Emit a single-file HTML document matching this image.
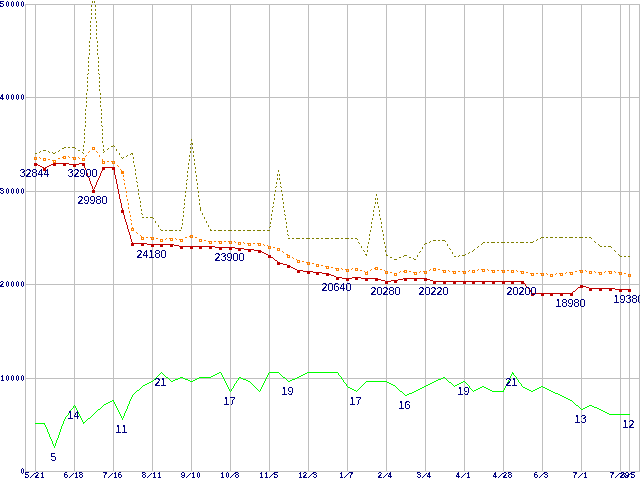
<!DOCTYPE html>
<html lang="en">
<head>
<meta charset="utf-8">
<title>Price history chart</title>
<style>
html,body{margin:0;padding:0;background:#fff;}
body{width:640px;height:480px;overflow:hidden;}
svg{display:block;}
.tiny{font-family:"Liberation Sans", Arial, sans-serif;font-size:8.8px;font-weight:normal;fill:#00007f;}
.tiny text{text-anchor:middle;}
.tiny .s{font-family:"Liberation Sans", Arial, sans-serif;font-size:9.5px;stroke-width:0.2;}
.val{font-family:"Liberation Sans",Arial,sans-serif;font-size:10.67px;fill:#00007f;}
</style>
</head>
<body>
<svg width="640" height="480" viewBox="0 0 640 480" role="img">
<title>Price history chart</title>
<desc>Y axis: 0 10000 20000 30000 40000 50000. X axis: 5/21 6/18 7/16 8/11 9/10 10/8 11/5 12/3 1/7 2/4 3/4 4/1 4/28 6/3 7/1 7/29 8/5. Lowest price: 32844 32900 29980 24180 23900 20640 20280 20220 20200 18980 19380. Count: 5 14 11 21 17 19 17 16 19 21 13 12.</desc>
<defs>
<filter id="t40" x="0" y="0" width="640" height="480" filterUnits="userSpaceOnUse" color-interpolation-filters="sRGB"><feComponentTransfer><feFuncA type="discrete" tableValues="0 0 0 0 0 0 0 0 0 0 0 0 0 0 0 0 0 0 0 0 0 0 1 1 1 1 1 1 1 1 1 1 1 1 1 1 1 1 1 1 1 1 1 1 1 1 1 1 1 1"/></feComponentTransfer></filter>
<filter id="t50" x="0" y="0" width="640" height="480" filterUnits="userSpaceOnUse" color-interpolation-filters="sRGB"><feComponentTransfer><feFuncA type="discrete" tableValues="0 1"/></feComponentTransfer></filter>
</defs>
<rect width="640" height="480" fill="#fff"/>
<path id="grid" fill="#bfbfbf" shape-rendering="crispEdges" d="M25 4h615v1h-615zM25 97h615v1h-615zM25 191h615v1h-615zM25 284h615v1h-615zM25 378h615v1h-615zM25 471h615v1h-615zM25 4h1v468h-1zM35 4h1v468h-1zM74 4h1v468h-1zM113 4h1v468h-1zM152 4h1v468h-1zM191 4h1v468h-1zM230 4h1v468h-1zM269 4h1v468h-1zM308 4h1v468h-1zM347 4h1v468h-1zM386 4h1v468h-1zM425 4h1v468h-1zM464 4h1v468h-1zM503 4h1v468h-1zM542 4h1v468h-1zM581 4h1v468h-1zM620 4h1v468h-1zM629 4h1v468h-1zM639 4h1v468h-1z"/>
<g class="tiny" id="ylabels" filter="url(#t50)" stroke="#00007f" stroke-width="0.25">
<text x="2.222 8.333 13.889 19.444 25" y="7.0" transform="scale(0.9,1)">5<tspan textLength="14" lengthAdjust="spacingAndGlyphs">0000</tspan></text>
<text x="2.222 8.333 13.889 19.444 25" y="100.0" transform="scale(0.9,1)">4<tspan textLength="14" lengthAdjust="spacingAndGlyphs">0000</tspan></text>
<text x="2.222 8.333 13.889 19.444 25" y="194.0" transform="scale(0.9,1)">3<tspan textLength="14" lengthAdjust="spacingAndGlyphs">0000</tspan></text>
<text x="2.222 8.333 13.889 19.444 25" y="287.0" transform="scale(0.9,1)">2<tspan textLength="14" lengthAdjust="spacingAndGlyphs">0000</tspan></text>
<text x="2.778 8.333 13.889 19.444 25" y="381.0" transform="scale(0.9,1)">1<tspan textLength="14" lengthAdjust="spacingAndGlyphs">0000</tspan></text>
<text x="25" y="474.0" transform="scale(0.9,1)"><tspan textLength="3.5" lengthAdjust="spacingAndGlyphs">0</tspan></text>
</g>
<g class="tiny" id="xlabels" filter="url(#t50)" stroke="#00007f" stroke-width="0.25">
<text x="30 36.111 41.111 47.222" y="478.0" dx="0 -1.7 0 0" rotate="0 30 0 0" transform="scale(0.9,1)">5<tspan class="s">/</tspan>21</text>
<text x="73.333 79.444 85 90" y="478.0" dx="0 -1.7 0 0" rotate="0 30 0 0" transform="scale(0.9,1)">6<tspan class="s">/</tspan>18</text>
<text x="116.667 122.778 128.333 133.333" y="478.0" dx="0 -1.7 0 0" rotate="0 30 0 0" transform="scale(0.9,1)">7<tspan class="s">/</tspan>16</text>
<text x="160 166.111 171.667 177.222" y="478.0" dx="0 -1.7 0 0" rotate="0 30 0 0" transform="scale(0.9,1)">8<tspan class="s">/</tspan>11</text>
<text x="203.333 209.444 215 220.556" y="478.0" dx="0 -1.7 0 0" rotate="0 30 0 0" transform="scale(0.9,1)">9<tspan class="s">/</tspan>1<tspan textLength="3.5" lengthAdjust="spacingAndGlyphs">0</tspan></text>
<text x="247.222 252.778 258.333 263.333" y="478.0" dx="0 0 -1.7 0" rotate="0 0 30 0" transform="scale(0.9,1)">1<tspan textLength="3.5" lengthAdjust="spacingAndGlyphs">0</tspan><tspan class="s">/</tspan>8</text>
<text x="290.556 296.111 301.667 306.667" y="478.0" dx="0 0 -1.7 0" rotate="0 0 30 0" transform="scale(0.9,1)">11<tspan class="s">/</tspan>5</text>
<text x="333.889 338.889 345 350" y="478.0" dx="0 0 -1.7 0" rotate="0 0 30 0" transform="scale(0.9,1)">12<tspan class="s">/</tspan>3</text>
<text x="379.444 385 390" y="478.0" dx="0 -1.7 0" rotate="0 30 0" transform="scale(0.9,1)">1<tspan class="s">/</tspan>7</text>
<text x="422.222 428.333 433.333" y="478.0" dx="0 -1.7 0" rotate="0 30 0" transform="scale(0.9,1)">2<tspan class="s">/</tspan>4</text>
<text x="465.556 471.667 476.667" y="478.0" dx="0 -1.7 0" rotate="0 30 0" transform="scale(0.9,1)">3<tspan class="s">/</tspan>4</text>
<text x="508.889 515 520.556" y="478.0" dx="0 -1.7 0" rotate="0 30 0" transform="scale(0.9,1)">4<tspan class="s">/</tspan>1</text>
<text x="550 556.111 561.111 566.667" y="478.0" dx="0 -1.7 0 0" rotate="0 30 0 0" transform="scale(0.9,1)">4<tspan class="s">/</tspan>28</text>
<text x="595.556 601.667 606.667" y="478.0" dx="0 -1.7 0" rotate="0 30 0" transform="scale(0.9,1)">6<tspan class="s">/</tspan>3</text>
<text x="638.889 645 650.556" y="478.0" dx="0 -1.7 0" rotate="0 30 0" transform="scale(0.9,1)">7<tspan class="s">/</tspan>1</text>
<text x="680 686.111 691.111 696.667" y="478.0" dx="0 -1.7 0 0" rotate="0 30 0 0" transform="scale(0.9,1)">7<tspan class="s">/</tspan>29</text>
<text x="692.222 698.333 703.333" y="478.0" dx="0 -1.7 0" rotate="0 30 0" transform="scale(0.9,1)">8<tspan class="s">/</tspan>5</text>
</g>
<path id="count" fill="#00ff00" shape-rendering="crispEdges" d="M161 372h1v1h-1zM219 372h2v1h-2zM269 372h10v1h-10zM307 372h31v1h-31zM512 372h1v1h-1zM160 373h1v1h-1zM162 373h1v1h-1zM217 373h2v1h-2zM221 373h1v2h-1zM268 373h1v2h-1zM279 373h1v1h-1zM305 373h2v1h-2zM338 373h1v2h-1zM512 373h2v1h-2zM159 374h1v1h-1zM163 374h1v1h-1zM215 374h2v1h-2zM280 374h1v1h-1zM303 374h2v1h-2zM511 374h1v2h-1zM513 374h1v1h-1zM158 375h1v1h-1zM164 375h1v1h-1zM213 375h2v1h-2zM222 375h1v2h-1zM267 375h1v2h-1zM281 375h1v1h-1zM301 375h2v1h-2zM339 375h1v1h-1zM514 375h1v1h-1zM157 376h1v1h-1zM165 376h1v1h-1zM211 376h2v1h-2zM282 376h1v1h-1zM299 376h2v1h-2zM340 376h1v1h-1zM510 376h1v2h-1zM515 376h1v1h-1zM156 377h1v1h-1zM166 377h2v1h-2zM180 377h3v1h-3zM199 377h12v1h-12zM223 377h1v2h-1zM239 377h2v1h-2zM266 377h1v2h-1zM283 377h2v1h-2zM297 377h2v1h-2zM341 377h1v2h-1zM443 377h2v1h-2zM516 377h1v2h-1zM155 378h1v1h-1zM168 378h1v1h-1zM178 378h2v1h-2zM183 378h2v1h-2zM197 378h2v1h-2zM238 378h1v2h-1zM241 378h2v1h-2zM285 378h1v1h-1zM295 378h2v1h-2zM441 378h2v1h-2zM445 378h1v1h-1zM509 378h1v2h-1zM154 379h1v1h-1zM169 379h1v1h-1zM175 379h3v1h-3zM185 379h3v1h-3zM195 379h2v1h-2zM224 379h1v2h-1zM243 379h3v1h-3zM265 379h1v2h-1zM286 379h1v1h-1zM292 379h3v1h-3zM342 379h1v1h-1zM438 379h3v1h-3zM446 379h1v1h-1zM517 379h1v1h-1zM153 380h1v1h-1zM170 380h1v1h-1zM173 380h2v1h-2zM188 380h2v1h-2zM193 380h2v1h-2zM237 380h1v1h-1zM246 380h2v1h-2zM287 380h1v1h-1zM290 380h2v1h-2zM343 380h1v2h-1zM436 380h2v1h-2zM447 380h1v1h-1zM508 380h1v2h-1zM518 380h1v2h-1zM151 381h2v1h-2zM171 381h2v1h-2zM190 381h3v1h-3zM225 381h1v2h-1zM236 381h1v2h-1zM248 381h2v1h-2zM264 381h1v2h-1zM288 381h2v1h-2zM366 381h21v1h-21zM434 381h2v1h-2zM448 381h1v1h-1zM463 381h2v1h-2zM149 382h2v1h-2zM250 382h1v1h-1zM344 382h1v1h-1zM365 382h1v1h-1zM387 382h2v1h-2zM432 382h2v1h-2zM449 382h2v1h-2zM461 382h2v1h-2zM465 382h1v1h-1zM507 382h1v2h-1zM519 382h1v1h-1zM147 383h2v1h-2zM226 383h1v2h-1zM235 383h1v1h-1zM251 383h1v1h-1zM263 383h1v2h-1zM345 383h1v1h-1zM364 383h1v1h-1zM389 383h2v1h-2zM430 383h2v1h-2zM451 383h1v1h-1zM459 383h2v1h-2zM466 383h1v1h-1zM520 383h1v1h-1zM145 384h2v1h-2zM234 384h1v2h-1zM252 384h1v1h-1zM346 384h1v2h-1zM363 384h1v1h-1zM391 384h2v1h-2zM428 384h2v1h-2zM452 384h1v1h-1zM457 384h2v1h-2zM467 384h1v1h-1zM506 384h1v2h-1zM521 384h1v2h-1zM143 385h2v1h-2zM227 385h1v2h-1zM253 385h1v1h-1zM262 385h1v2h-1zM362 385h1v1h-1zM393 385h2v1h-2zM426 385h2v1h-2zM453 385h1v1h-1zM455 385h2v1h-2zM468 385h1v1h-1zM142 386h1v1h-1zM233 386h1v2h-1zM254 386h1v1h-1zM347 386h1v1h-1zM361 386h1v1h-1zM395 386h1v1h-1zM424 386h2v1h-2zM454 386h1v1h-1zM469 386h1v2h-1zM482 386h2v1h-2zM505 386h1v2h-1zM522 386h1v1h-1zM541 386h2v1h-2zM141 387h1v1h-1zM228 387h1v2h-1zM255 387h1v1h-1zM261 387h1v2h-1zM348 387h2v1h-2zM360 387h1v1h-1zM396 387h1v1h-1zM422 387h2v1h-2zM480 387h2v1h-2zM484 387h2v1h-2zM523 387h2v1h-2zM539 387h2v1h-2zM543 387h2v1h-2zM140 388h1v1h-1zM232 388h1v1h-1zM256 388h1v1h-1zM350 388h2v1h-2zM359 388h1v1h-1zM397 388h1v1h-1zM420 388h2v1h-2zM470 388h1v1h-1zM478 388h2v1h-2zM486 388h2v1h-2zM504 388h1v2h-1zM525 388h2v1h-2zM537 388h2v1h-2zM545 388h2v1h-2zM139 389h1v1h-1zM229 389h1v2h-1zM231 389h1v2h-1zM257 389h1v1h-1zM260 389h1v2h-1zM352 389h2v1h-2zM358 389h1v1h-1zM398 389h1v1h-1zM418 389h2v1h-2zM471 389h1v1h-1zM476 389h2v1h-2zM488 389h2v1h-2zM527 389h2v1h-2zM535 389h2v1h-2zM547 389h2v1h-2zM137 390h2v1h-2zM258 390h1v1h-1zM354 390h2v1h-2zM357 390h1v1h-1zM399 390h1v1h-1zM416 390h2v1h-2zM472 390h1v1h-1zM474 390h2v1h-2zM490 390h2v1h-2zM503 390h1v1h-1zM529 390h2v1h-2zM533 390h2v1h-2zM549 390h2v1h-2zM136 391h1v1h-1zM230 391h1v1h-1zM259 391h1v1h-1zM356 391h1v1h-1zM400 391h2v1h-2zM414 391h2v1h-2zM473 391h1v1h-1zM492 391h12v1h-12zM531 391h2v1h-2zM551 391h2v1h-2zM135 392h1v1h-1zM402 392h1v1h-1zM412 392h2v1h-2zM553 392h2v1h-2zM134 393h1v1h-1zM403 393h1v1h-1zM409 393h3v1h-3zM555 393h3v1h-3zM133 394h1v1h-1zM404 394h1v1h-1zM407 394h2v1h-2zM558 394h2v1h-2zM132 395h1v2h-1zM405 395h2v1h-2zM560 395h2v1h-2zM562 396h2v1h-2zM131 397h1v2h-1zM564 397h2v1h-2zM566 398h2v1h-2zM130 399h1v2h-1zM568 399h2v1h-2zM112 400h2v1h-2zM570 400h2v1h-2zM110 401h2v1h-2zM113 401h1v1h-1zM129 401h1v3h-1zM572 401h1v1h-1zM108 402h2v1h-2zM114 402h1v2h-1zM573 402h1v1h-1zM106 403h2v1h-2zM574 403h1v1h-1zM104 404h2v1h-2zM115 404h1v2h-1zM128 404h1v2h-1zM575 404h1v1h-1zM74 405h1v1h-1zM103 405h1v1h-1zM576 405h2v1h-2zM589 405h3v1h-3zM73 406h1v2h-1zM75 406h1v2h-1zM102 406h1v1h-1zM116 406h1v2h-1zM127 406h1v3h-1zM578 406h1v1h-1zM587 406h2v1h-2zM592 406h2v1h-2zM101 407h1v1h-1zM579 407h1v1h-1zM585 407h2v1h-2zM594 407h3v1h-3zM72 408h1v1h-1zM76 408h1v2h-1zM100 408h1v1h-1zM117 408h1v2h-1zM580 408h1v1h-1zM583 408h2v1h-2zM597 408h2v1h-2zM71 409h1v1h-1zM98 409h2v1h-2zM126 409h1v2h-1zM581 409h2v1h-2zM599 409h2v1h-2zM70 410h1v2h-1zM77 410h1v2h-1zM97 410h1v1h-1zM118 410h1v2h-1zM601 410h2v1h-2zM96 411h1v1h-1zM125 411h1v2h-1zM603 411h2v1h-2zM69 412h1v1h-1zM78 412h1v2h-1zM95 412h1v1h-1zM119 412h1v2h-1zM605 412h2v1h-2zM68 413h1v2h-1zM94 413h1v1h-1zM124 413h1v3h-1zM607 413h2v1h-2zM79 414h1v2h-1zM93 414h1v1h-1zM120 414h1v2h-1zM609 414h21v1h-21zM67 415h1v1h-1zM92 415h1v1h-1zM66 416h1v1h-1zM80 416h1v2h-1zM91 416h1v1h-1zM121 416h1v2h-1zM123 416h1v2h-1zM65 417h1v2h-1zM90 417h1v1h-1zM81 418h1v2h-1zM88 418h2v1h-2zM122 418h1v2h-1zM64 419h1v2h-1zM87 419h1v1h-1zM82 420h1v2h-1zM86 420h1v1h-1zM63 421h1v3h-1zM85 421h1v1h-1zM83 422h2v1h-2zM35 423h10v1h-10zM83 423h1v1h-1zM44 424h1v1h-1zM62 424h1v2h-1zM45 425h1v2h-1zM61 426h1v3h-1zM46 427h1v2h-1zM47 429h1v3h-1zM60 429h1v3h-1zM48 432h1v2h-1zM59 432h1v3h-1zM49 434h1v3h-1zM58 435h1v3h-1zM50 437h1v2h-1zM57 438h1v2h-1zM51 439h1v2h-1zM56 440h1v3h-1zM52 441h1v3h-1zM55 443h1v3h-1zM53 444h1v2h-1zM54 446h1v2h-1z"/>
<path id="max" fill="#7f7f00" shape-rendering="crispEdges" d="M92 1h1v2h-1zM94 1h1v2h-1zM91 5h1v2h-1zM95 5h1v2h-1zM91 9h1v2h-1zM95 9h1v2h-1zM91 13h1v2h-1zM95 13h1v2h-1zM91 17h1v2h-1zM95 17h1v2h-1zM90 21h1v2h-1zM96 21h1v2h-1zM90 25h1v2h-1zM96 25h1v2h-1zM90 29h1v2h-1zM96 29h1v2h-1zM90 33h1v2h-1zM96 33h1v2h-1zM90 37h1v2h-1zM96 37h1v2h-1zM89 41h1v2h-1zM97 41h1v2h-1zM89 45h1v2h-1zM97 45h1v2h-1zM89 49h1v2h-1zM97 49h1v2h-1zM89 53h1v2h-1zM97 53h1v2h-1zM88 57h1v2h-1zM98 57h1v2h-1zM88 61h1v2h-1zM98 61h1v2h-1zM88 65h1v2h-1zM98 65h1v2h-1zM88 69h1v2h-1zM98 69h1v2h-1zM88 73h1v1h-1zM98 73h1v1h-1zM87 74h1v1h-1zM99 74h1v1h-1zM87 77h1v2h-1zM99 77h1v2h-1zM87 81h1v2h-1zM99 81h1v2h-1zM87 85h1v2h-1zM99 85h1v2h-1zM87 89h1v2h-1zM99 89h1v2h-1zM86 93h1v2h-1zM100 93h1v2h-1zM86 97h1v2h-1zM100 97h1v2h-1zM86 101h1v2h-1zM100 101h1v2h-1zM86 105h1v2h-1zM100 105h1v2h-1zM85 109h1v2h-1zM101 109h1v2h-1zM85 113h1v2h-1zM101 113h1v2h-1zM85 117h1v2h-1zM101 117h1v2h-1zM85 121h1v2h-1zM101 121h1v2h-1zM85 125h1v2h-1zM101 125h1v1h-1zM102 126h1v1h-1zM84 129h1v2h-1zM102 129h1v2h-1zM84 133h1v2h-1zM102 133h1v2h-1zM84 137h1v2h-1zM102 137h1v2h-1zM191 139h1v2h-1zM84 141h1v2h-1zM102 141h1v2h-1zM191 143h2v1h-2zM190 144h1v1h-1zM192 144h1v1h-1zM83 145h1v2h-1zM103 145h1v2h-1zM113 145h1v1h-1zM111 146h2v1h-2zM114 146h1v1h-1zM64 147h2v1h-2zM68 147h2v1h-2zM72 147h3v1h-3zM190 147h1v2h-1zM192 147h1v2h-1zM62 148h2v1h-2zM75 148h1v1h-1zM108 148h1v1h-1zM83 149h1v2h-1zM103 149h1v2h-1zM107 149h1v1h-1zM116 149h1v2h-1zM43 150h3v1h-3zM59 150h1v1h-1zM78 150h2v1h-2zM40 151h1v1h-1zM48 151h1v1h-1zM58 151h1v1h-1zM104 151h1v1h-1zM190 151h1v2h-1zM193 151h1v2h-1zM39 152h1v1h-1zM49 152h1v1h-1zM52 152h1v1h-1zM55 152h1v1h-1zM82 152h1v1h-1zM103 152h1v1h-1zM35 153h2v1h-2zM53 153h2v1h-2zM83 153h1v1h-1zM119 153h1v2h-1zM131 153h2v1h-2zM130 154h1v1h-1zM132 154h1v1h-1zM127 155h1v1h-1zM189 155h1v2h-1zM193 155h1v2h-1zM126 156h1v1h-1zM121 157h1v1h-1zM123 157h1v1h-1zM133 157h1v2h-1zM122 158h1v1h-1zM189 159h1v2h-1zM194 159h1v2h-1zM133 161h1v2h-1zM188 163h1v2h-1zM194 163h1v2h-1zM134 165h1v2h-1zM188 167h1v2h-1zM195 167h1v2h-1zM135 169h1v2h-1zM278 170h1v2h-1zM187 171h1v2h-1zM195 171h1v2h-1zM135 173h1v2h-1zM277 174h1v2h-1zM279 174h1v2h-1zM187 175h1v2h-1zM196 175h1v2h-1zM136 177h1v2h-1zM277 178h1v2h-1zM279 178h1v2h-1zM187 179h1v1h-1zM196 179h1v2h-1zM186 180h1v1h-1zM136 181h1v1h-1zM137 182h1v1h-1zM276 182h1v2h-1zM280 182h1v2h-1zM186 183h1v2h-1zM197 183h1v2h-1zM137 185h1v2h-1zM276 186h1v1h-1zM280 186h1v1h-1zM186 187h1v2h-1zM197 187h1v2h-1zM275 187h1v1h-1zM281 187h1v1h-1zM138 189h1v2h-1zM275 190h1v2h-1zM281 190h1v2h-1zM185 191h1v2h-1zM198 191h1v2h-1zM138 193h1v2h-1zM274 194h1v2h-1zM282 194h1v2h-1zM376 194h1v2h-1zM185 195h1v2h-1zM198 195h1v2h-1zM139 197h1v2h-1zM274 198h1v2h-1zM282 198h1v2h-1zM375 198h1v2h-1zM377 198h1v2h-1zM184 199h1v2h-1zM199 199h1v2h-1zM140 201h1v2h-1zM273 202h1v2h-1zM283 202h1v2h-1zM375 202h1v2h-1zM377 202h1v2h-1zM184 203h1v2h-1zM199 203h1v2h-1zM140 205h1v2h-1zM273 206h1v1h-1zM283 206h1v2h-1zM374 206h1v2h-1zM378 206h1v2h-1zM184 207h1v1h-1zM200 207h1v4h-1zM272 207h1v1h-1zM183 208h1v1h-1zM141 209h1v2h-1zM272 210h1v2h-1zM284 210h1v2h-1zM373 210h1v2h-1zM379 210h1v2h-1zM183 211h1v2h-1zM141 213h1v1h-1zM202 213h1v2h-1zM142 214h1v1h-1zM271 214h1v2h-1zM284 214h1v1h-1zM373 214h1v2h-1zM379 214h1v2h-1zM183 215h1v2h-1zM285 215h1v1h-1zM142 217h2v1h-2zM146 217h2v1h-2zM150 217h3v1h-3zM204 217h1v2h-1zM153 218h1v1h-1zM271 218h1v2h-1zM285 218h1v2h-1zM372 218h1v2h-1zM380 218h1v2h-1zM182 219h1v2h-1zM155 221h1v2h-1zM206 221h1v2h-1zM270 222h1v2h-1zM286 222h1v2h-1zM371 222h1v2h-1zM381 222h1v2h-1zM182 223h1v2h-1zM158 225h1v2h-1zM208 225h1v2h-1zM270 226h1v1h-1zM286 226h1v2h-1zM371 226h1v2h-1zM381 226h1v2h-1zM181 227h1v2h-1zM269 227h1v1h-1zM160 229h1v1h-1zM210 229h1v1h-1zM161 230h2v1h-2zM165 230h2v1h-2zM169 230h4v1h-4zM175 230h2v1h-2zM179 230h2v1h-2zM210 230h2v1h-2zM214 230h2v1h-2zM218 230h4v1h-4zM224 230h2v1h-2zM228 230h4v1h-4zM234 230h2v1h-2zM238 230h3v1h-3zM243 230h2v1h-2zM247 230h4v1h-4zM253 230h2v1h-2zM257 230h4v1h-4zM263 230h2v1h-2zM267 230h3v1h-3zM287 230h1v2h-1zM370 230h1v2h-1zM382 230h1v2h-1zM287 234h1v1h-1zM369 234h1v2h-1zM383 234h1v2h-1zM288 235h1v1h-1zM541 237h3v1h-3zM546 237h2v1h-2zM550 237h3v1h-3zM555 237h2v1h-2zM559 237h4v1h-4zM565 237h2v1h-2zM569 237h4v1h-4zM575 237h2v1h-2zM579 237h4v1h-4zM585 237h2v1h-2zM589 237h2v1h-2zM288 238h2v1h-2zM292 238h2v1h-2zM296 238h4v1h-4zM302 238h2v1h-2zM306 238h4v1h-4zM312 238h2v1h-2zM316 238h3v1h-3zM321 238h2v1h-2zM325 238h4v1h-4zM331 238h2v1h-2zM335 238h4v1h-4zM341 238h2v1h-2zM345 238h4v1h-4zM351 238h2v1h-2zM355 238h2v1h-2zM369 238h1v2h-1zM383 238h1v2h-1zM540 238h1v1h-1zM591 238h1v1h-1zM357 239h1v1h-1zM537 239h1v1h-1zM433 240h3v1h-3zM438 240h2v1h-2zM442 240h3v1h-3zM536 240h1v1h-1zM430 241h1v1h-1zM445 241h1v1h-1zM533 241h1v1h-1zM594 241h1v1h-1zM358 242h1v1h-1zM368 242h1v2h-1zM384 242h1v2h-1zM429 242h1v1h-1zM483 242h2v1h-2zM487 242h2v1h-2zM491 242h4v1h-4zM497 242h2v1h-2zM501 242h4v1h-4zM507 242h2v1h-2zM511 242h3v1h-3zM516 242h2v1h-2zM520 242h4v1h-4zM526 242h2v1h-2zM530 242h3v1h-3zM595 242h1v1h-1zM359 243h1v1h-1zM425 243h2v1h-2zM482 243h1v1h-1zM424 244h1v1h-1zM447 244h1v2h-1zM481 244h1v1h-1zM598 244h1v1h-1zM599 245h1v1h-1zM361 246h1v2h-1zM367 246h1v2h-1zM385 246h1v2h-1zM478 246h1v1h-1zM600 246h2v1h-2zM604 246h2v1h-2zM608 246h3v1h-3zM422 247h1v2h-1zM477 247h1v1h-1zM611 247h1v1h-1zM449 248h1v1h-1zM450 249h1v1h-1zM474 249h1v1h-1zM363 250h1v1h-1zM367 250h1v2h-1zM385 250h1v2h-1zM473 250h1v1h-1zM614 250h1v1h-1zM364 251h1v1h-1zM420 251h1v1h-1zM472 251h1v1h-1zM615 251h1v1h-1zM419 252h1v1h-1zM452 252h1v2h-1zM469 252h1v1h-1zM468 253h1v1h-1zM365 254h2v1h-2zM386 254h1v1h-1zM465 254h1v1h-1zM618 254h1v1h-1zM366 255h1v1h-1zM386 255h2v1h-2zM404 255h3v1h-3zM417 255h1v2h-1zM459 255h1v1h-1zM462 255h3v1h-3zM619 255h1v1h-1zM403 256h1v1h-1zM454 256h2v1h-2zM458 256h1v1h-1zM620 256h2v1h-2zM624 256h2v1h-2zM628 256h2v1h-2zM390 257h2v1h-2zM399 257h2v1h-2zM409 257h2v1h-2zM413 258h1v1h-1zM394 259h3v1h-3zM414 259h2v1h-2z"/>
<path id="avg" fill="#ff7f00" shape-rendering="crispEdges" d="M93 147h1v1h-1zM92 148h1v1h-1zM94 148h1v1h-1zM89 151h1v1h-1zM96 151h1v1h-1zM88 152h1v1h-1zM97 152h1v1h-1zM86 155h1v1h-1zM99 155h1v2h-1zM63 156h3v1h-3zM68 156h1v1h-1zM85 156h1v1h-1zM35 157h2v1h-2zM39 157h1v1h-1zM62 157h1v1h-1zM69 157h1v1h-1zM72 157h4v1h-4zM78 157h1v1h-1zM40 158h1v1h-1zM43 158h3v1h-3zM58 158h2v1h-2zM79 158h1v1h-1zM82 158h2v1h-2zM48 159h2v1h-2zM102 159h1v2h-1zM52 160h4v1h-4zM103 161h2v1h-2zM107 161h2v1h-2zM111 161h3v1h-3zM114 162h1v1h-1zM117 165h1v1h-1zM118 166h1v1h-1zM120 169h1v1h-1zM121 170h1v1h-1zM122 171h1v2h-1zM123 175h1v2h-1zM123 179h1v1h-1zM124 180h1v1h-1zM124 183h1v2h-1zM125 187h1v2h-1zM126 191h1v2h-1zM126 195h1v2h-1zM127 199h1v2h-1zM128 203h1v2h-1zM128 207h1v2h-1zM129 211h1v2h-1zM130 215h1v2h-1zM130 219h1v1h-1zM131 220h1v1h-1zM131 223h1v2h-1zM132 227h1v2h-1zM133 229h1v1h-1zM136 232h1v1h-1zM137 233h1v1h-1zM140 235h1v1h-1zM190 235h3v1h-3zM141 236h1v1h-1zM189 236h1v1h-1zM142 237h2v1h-2zM146 237h2v1h-2zM150 237h4v1h-4zM185 237h2v1h-2zM195 237h2v1h-2zM156 238h2v1h-2zM166 238h1v1h-1zM169 238h4v1h-4zM175 238h1v1h-1zM160 239h3v1h-3zM165 239h1v1h-1zM176 239h1v1h-1zM179 239h4v1h-4zM199 239h3v1h-3zM204 240h2v1h-2zM208 241h4v1h-4zM214 241h2v1h-2zM218 241h4v1h-4zM224 241h2v1h-2zM228 241h4v1h-4zM234 241h1v1h-1zM235 242h1v1h-1zM238 242h3v1h-3zM243 242h1v1h-1zM244 243h1v1h-1zM247 243h4v1h-4zM253 243h2v1h-2zM257 243h4v1h-4zM263 244h1v1h-1zM264 245h1v1h-1zM267 245h1v1h-1zM268 246h3v1h-3zM273 247h2v1h-2zM277 248h2v1h-2zM279 249h1v1h-1zM282 251h1v1h-1zM283 252h1v1h-1zM286 254h2v1h-2zM288 255h1v1h-1zM289 256h1v1h-1zM292 257h1v1h-1zM293 258h1v1h-1zM296 259h1v1h-1zM297 260h3v1h-3zM302 261h2v1h-2zM306 262h4v1h-4zM312 263h2v1h-2zM316 264h3v1h-3zM321 265h2v1h-2zM325 266h4v1h-4zM331 267h2v1h-2zM375 267h3v1h-3zM335 268h4v1h-4zM341 268h1v1h-1zM352 268h1v1h-1zM355 268h3v1h-3zM374 268h1v1h-1zM433 268h3v1h-3zM342 269h1v1h-1zM345 269h4v1h-4zM351 269h1v1h-1zM371 269h1v1h-1zM380 269h2v1h-2zM430 269h1v1h-1zM438 269h2v1h-2zM478 269h1v1h-1zM481 269h4v1h-4zM487 269h1v1h-1zM360 270h2v1h-2zM370 270h1v1h-1zM384 270h1v1h-1zM404 270h3v1h-3zM429 270h1v1h-1zM442 270h4v1h-4zM448 270h1v1h-1zM469 270h1v1h-1zM472 270h3v1h-3zM477 270h1v1h-1zM488 270h1v1h-1zM491 270h4v1h-4zM497 270h2v1h-2zM501 270h4v1h-4zM507 270h2v1h-2zM511 270h3v1h-3zM516 270h1v1h-1zM579 270h4v1h-4zM585 270h1v1h-1zM364 271h1v1h-1zM367 271h1v1h-1zM385 271h3v1h-3zM400 271h1v1h-1zM403 271h1v1h-1zM409 271h2v1h-2zM420 271h1v1h-1zM423 271h4v1h-4zM449 271h1v1h-1zM452 271h4v1h-4zM458 271h2v1h-2zM462 271h4v1h-4zM468 271h1v1h-1zM517 271h1v1h-1zM520 271h4v1h-4zM575 271h2v1h-2zM586 271h1v1h-1zM589 271h3v1h-3zM594 271h1v1h-1zM605 271h1v1h-1zM608 271h4v1h-4zM614 271h1v1h-1zM365 272h2v1h-2zM390 272h2v1h-2zM399 272h1v1h-1zM413 272h4v1h-4zM419 272h1v1h-1zM526 272h2v1h-2zM566 272h1v1h-1zM569 272h4v1h-4zM595 272h1v1h-1zM598 272h4v1h-4zM604 272h1v1h-1zM615 272h1v1h-1zM618 272h4v1h-4zM394 273h3v1h-3zM530 273h4v1h-4zM536 273h2v1h-2zM540 273h4v1h-4zM546 273h1v1h-1zM556 273h1v1h-1zM559 273h4v1h-4zM565 273h1v1h-1zM624 273h2v1h-2zM547 274h1v1h-1zM550 274h3v1h-3zM555 274h1v1h-1zM628 274h2v1h-2z"/>
<path id="avg-pts" fill="#ff7f00" fill-rule="evenodd" shape-rendering="crispEdges" d="M34 157h3v3h-3zM35 158h1v1h-1zM43 158h3v3h-3zM44 159h1v1h-1zM53 160h3v3h-3zM54 161h1v1h-1zM63 156h3v3h-3zM64 157h1v1h-1zM73 157h3v3h-3zM74 158h1v1h-1zM82 158h3v3h-3zM83 159h1v1h-1zM92 147h3v3h-3zM93 148h1v1h-1zM102 161h3v3h-3zM103 162h1v1h-1zM112 161h3v3h-3zM113 162h1v1h-1zM121 171h3v3h-3zM122 172h1v1h-1zM131 228h3v3h-3zM132 229h1v1h-1zM141 237h3v3h-3zM142 238h1v1h-1zM151 237h3v3h-3zM152 238h1v1h-1zM160 239h3v3h-3zM161 240h1v1h-1zM170 238h3v3h-3zM171 239h1v1h-1zM180 239h3v3h-3zM181 240h1v1h-1zM190 235h3v3h-3zM191 236h1v1h-1zM199 239h3v3h-3zM200 240h1v1h-1zM209 241h3v3h-3zM210 242h1v1h-1zM219 241h3v3h-3zM220 242h1v1h-1zM229 241h3v3h-3zM230 242h1v1h-1zM238 242h3v3h-3zM239 243h1v1h-1zM248 243h3v3h-3zM249 244h1v1h-1zM258 243h3v3h-3zM259 244h1v1h-1zM268 246h3v3h-3zM269 247h1v1h-1zM277 248h3v3h-3zM278 249h1v1h-1zM287 255h3v3h-3zM288 256h1v1h-1zM297 260h3v3h-3zM298 261h1v1h-1zM307 262h3v3h-3zM308 263h1v1h-1zM316 264h3v3h-3zM317 265h1v1h-1zM326 266h3v3h-3zM327 267h1v1h-1zM336 268h3v3h-3zM337 269h1v1h-1zM346 269h3v3h-3zM347 270h1v1h-1zM355 268h3v3h-3zM356 269h1v1h-1zM365 272h3v3h-3zM366 273h1v1h-1zM375 267h3v3h-3zM376 268h1v1h-1zM385 271h3v3h-3zM386 272h1v1h-1zM394 273h3v3h-3zM395 274h1v1h-1zM404 270h3v3h-3zM405 271h1v1h-1zM414 272h3v3h-3zM415 273h1v1h-1zM424 271h3v3h-3zM425 272h1v1h-1zM433 268h3v3h-3zM434 269h1v1h-1zM443 270h3v3h-3zM444 271h1v1h-1zM453 271h3v3h-3zM454 272h1v1h-1zM463 271h3v3h-3zM464 272h1v1h-1zM472 270h3v3h-3zM473 271h1v1h-1zM482 269h3v3h-3zM483 270h1v1h-1zM492 270h3v3h-3zM493 271h1v1h-1zM502 270h3v3h-3zM503 271h1v1h-1zM511 270h3v3h-3zM512 271h1v1h-1zM521 271h3v3h-3zM522 272h1v1h-1zM531 273h3v3h-3zM532 274h1v1h-1zM541 273h3v3h-3zM542 274h1v1h-1zM550 274h3v3h-3zM551 275h1v1h-1zM560 273h3v3h-3zM561 274h1v1h-1zM570 272h3v3h-3zM571 273h1v1h-1zM580 270h3v3h-3zM581 271h1v1h-1zM589 271h3v3h-3zM590 272h1v1h-1zM599 272h3v3h-3zM600 273h1v1h-1zM609 271h3v3h-3zM610 272h1v1h-1zM619 272h3v3h-3zM620 273h1v1h-1zM628 274h3v3h-3zM629 275h1v1h-1z"/>
<path id="min" fill="#bf0000" shape-rendering="crispEdges" d="M35 163h1v1h-1zM53 163h16v1h-16zM79 163h5v1h-5zM36 164h2v1h-2zM51 164h2v1h-2zM69 164h10v1h-10zM83 164h1v1h-1zM38 165h2v1h-2zM49 165h2v1h-2zM84 165h1v3h-1zM40 166h2v1h-2zM47 166h2v1h-2zM42 167h2v1h-2zM45 167h2v1h-2zM103 167h11v1h-11zM44 168h1v1h-1zM85 168h1v2h-1zM103 168h1v1h-1zM113 168h1v2h-1zM102 169h1v2h-1zM86 170h1v3h-1zM114 170h1v5h-1zM101 171h1v2h-1zM87 173h1v3h-1zM100 173h1v3h-1zM115 175h1v4h-1zM88 176h1v2h-1zM99 176h1v2h-1zM89 178h1v3h-1zM98 178h1v2h-1zM116 179h1v5h-1zM97 180h1v2h-1zM90 181h1v3h-1zM96 182h1v3h-1zM91 184h1v2h-1zM117 184h1v5h-1zM95 185h1v2h-1zM92 186h1v3h-1zM94 187h1v2h-1zM93 189h1v2h-1zM118 189h1v5h-1zM119 194h1v5h-1zM120 199h1v4h-1zM121 203h1v5h-1zM122 208h1v4h-1zM123 212h1v3h-1zM124 215h1v4h-1zM125 219h1v3h-1zM126 222h1v3h-1zM127 225h1v4h-1zM128 229h1v3h-1zM129 232h1v3h-1zM130 235h1v4h-1zM131 239h1v3h-1zM132 242h1v1h-1zM132 243h15v1h-15zM147 244h27v1h-27zM174 245h5v1h-5zM179 246h36v1h-36zM215 247h20v1h-20zM235 248h9v1h-9zM244 249h10v1h-10zM254 250h6v1h-6zM260 251h2v1h-2zM262 252h2v1h-2zM264 253h2v1h-2zM266 254h2v1h-2zM268 255h2v1h-2zM270 256h1v1h-1zM271 257h2v1h-2zM273 258h1v1h-1zM274 259h1v1h-1zM275 260h2v1h-2zM277 261h1v1h-1zM278 262h2v1h-2zM280 263h3v1h-3zM283 264h4v1h-4zM287 265h2v1h-2zM289 266h2v1h-2zM291 267h2v1h-2zM293 268h2v1h-2zM295 269h2v1h-2zM297 270h6v1h-6zM303 271h10v1h-10zM313 272h9v1h-9zM322 273h7v1h-7zM329 274h2v1h-2zM331 275h3v1h-3zM334 276h2v1h-2zM336 277h6v1h-6zM352 277h9v1h-9zM342 278h10v1h-10zM361 278h17v1h-17zM403 278h24v1h-24zM378 279h3v1h-3zM398 279h5v1h-5zM427 279h3v1h-3zM381 280h4v1h-4zM391 280h7v1h-7zM430 280h3v1h-3zM385 281h6v1h-6zM433 281h90v1h-90zM523 282h1v1h-1zM524 283h1v1h-1zM525 284h1v2h-1zM581 285h2v1h-2zM526 286h1v1h-1zM580 286h1v1h-1zM583 286h3v1h-3zM527 287h1v1h-1zM578 287h2v1h-2zM586 287h3v1h-3zM528 288h1v1h-1zM577 288h1v1h-1zM589 288h26v1h-26zM529 289h1v1h-1zM576 289h1v1h-1zM615 289h15v1h-15zM530 290h1v2h-1zM575 290h1v1h-1zM573 291h2v1h-2zM531 292h1v1h-1zM572 292h1v1h-1zM532 293h40v1h-40z"/>
<path id="min-pts" fill="#bf0000" shape-rendering="crispEdges" d="M34 163h3v3h-3zM43 168h3v3h-3zM53 163h3v3h-3zM63 163h3v3h-3zM73 164h3v3h-3zM82 163h3v3h-3zM92 190h3v3h-3zM102 167h3v3h-3zM112 167h3v3h-3zM121 210h3v3h-3zM131 243h3v3h-3zM141 243h3v3h-3zM151 244h3v3h-3zM160 244h3v3h-3zM170 244h3v3h-3zM180 246h3v3h-3zM190 246h3v3h-3zM199 246h3v3h-3zM209 246h3v3h-3zM219 247h3v3h-3zM229 247h3v3h-3zM238 248h3v3h-3zM248 249h3v3h-3zM258 250h3v3h-3zM268 255h3v3h-3zM277 262h3v3h-3zM287 265h3v3h-3zM297 270h3v3h-3zM307 271h3v3h-3zM316 272h3v3h-3zM326 273h3v3h-3zM336 277h3v3h-3zM346 278h3v3h-3zM355 277h3v3h-3zM365 278h3v3h-3zM375 278h3v3h-3zM385 281h3v3h-3zM394 280h3v3h-3zM404 278h3v3h-3zM414 278h3v3h-3zM424 278h3v3h-3zM433 281h3v3h-3zM443 281h3v3h-3zM453 281h3v3h-3zM463 281h3v3h-3zM472 281h3v3h-3zM482 281h3v3h-3zM492 281h3v3h-3zM502 281h3v3h-3zM511 281h3v3h-3zM521 281h3v3h-3zM531 293h3v3h-3zM541 293h3v3h-3zM550 293h3v3h-3zM560 293h3v3h-3zM570 293h3v3h-3zM580 285h3v3h-3zM589 288h3v3h-3zM599 288h3v3h-3zM609 288h3v3h-3zM619 289h3v3h-3zM628 289h3v3h-3z"/>
<g class="val" id="values" filter="url(#t40)">
<text x="19.55 25.55 31.55 37.55 43.55" y="177">32844</text>
<text x="67.55 73.55 79.55 85.55 91.55" y="177">32900</text>
<text x="77.55 83.55 89.55 95.55 101.55" y="204">29980</text>
<text x="136.55 142.55 148.55 154.55 160.55" y="258">24180</text>
<text x="214.55 220.55 226.55 232.55 238.55" y="261">23900</text>
<text x="321.55 327.55 333.55 339.55 345.55" y="291">20640</text>
<text x="370.55 376.55 382.55 388.55 394.55" y="295">20280</text>
<text x="418.55 424.55 430.55 436.55 442.55" y="295">20220</text>
<text x="506.55 512.55 518.55 524.55 530.55" y="295">20200</text>
<text x="555.55 561.55 567.55 573.55 579.55" y="307">18980</text>
<text x="613.55 619.55 625.55 631.55 637.55" y="303">19380</text>
<text x="50.55" y="461">5</text>
<text x="67.55 73.55" y="419">14</text>
<text x="115.55 121.55" y="433">11</text>
<text x="154.55 160.55" y="386">21</text>
<text x="223.55 229.55" y="405">17</text>
<text x="281.55 287.55" y="395">19</text>
<text x="349.55 355.55" y="405">17</text>
<text x="398.55 404.55" y="409">16</text>
<text x="457.55 463.55" y="395">19</text>
<text x="505.55 511.55" y="386">21</text>
<text x="574.55 580.55" y="423">13</text>
<text x="622.55 628.55" y="428">12</text>
</g>
</svg>
</body>
</html>
